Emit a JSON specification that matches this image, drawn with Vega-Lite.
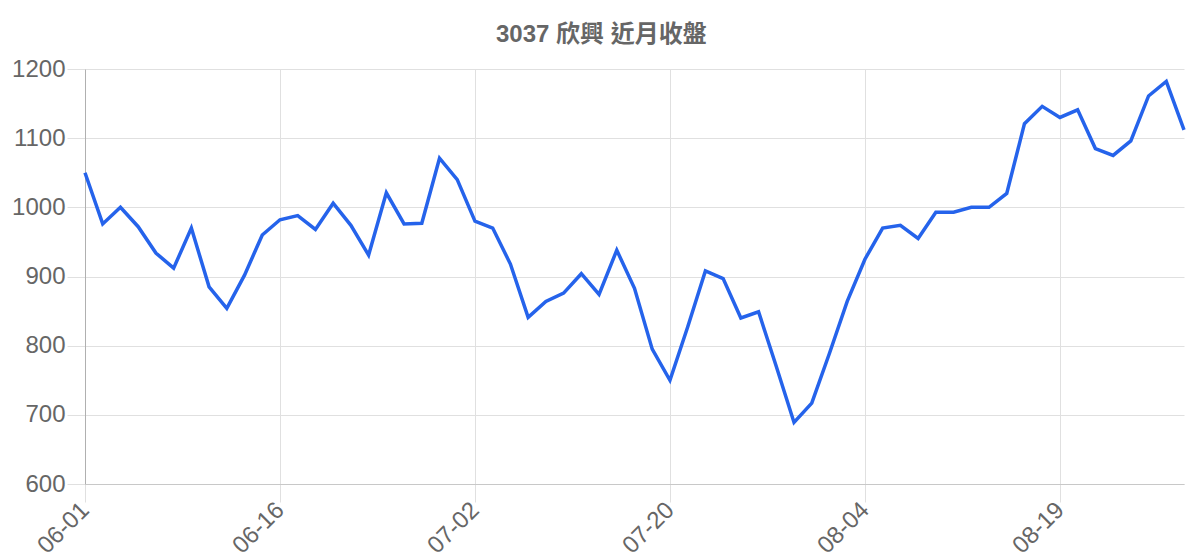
{
  "$schema": "https://vega.github.io/schema/vega-lite/v6.json",
  "autosize": {"type": "none"},
  "padding": {"left": 85, "top": 69, "right": 16, "bottom": 76},
  "width": 1099,
  "height": 415,
  "background": "white",
  "config": {
    "view": {"stroke": null},
    "font": "Liberation Sans"
  },
  "title": {
    "text": "3037 欣興 近月收盤",
    "font": "Liberation Sans, Noto Sans CJK TC",
    "fontSize": 24,
    "fontWeight": "bold",
    "color": "#666666",
    "anchor": "middle",
    "frame": "bounds",
    "offset": 10
  },
  "data": {
    "values": [
      {"date": "06-01", "close": 1050},
      {"date": "06-02", "close": 976},
      {"date": "06-03", "close": 1000},
      {"date": "06-04", "close": 972},
      {"date": "06-05", "close": 934},
      {"date": "06-08", "close": 912},
      {"date": "06-09", "close": 970},
      {"date": "06-10", "close": 885},
      {"date": "06-11", "close": 854},
      {"date": "06-12", "close": 902},
      {"date": "06-15", "close": 960},
      {"date": "06-16", "close": 982},
      {"date": "06-17", "close": 988},
      {"date": "06-18", "close": 968},
      {"date": "06-19", "close": 1006},
      {"date": "06-20", "close": 974},
      {"date": "06-22", "close": 931},
      {"date": "06-23", "close": 1021},
      {"date": "06-24", "close": 976},
      {"date": "06-29", "close": 977},
      {"date": "06-30", "close": 1071},
      {"date": "07-01", "close": 1040},
      {"date": "07-02", "close": 980},
      {"date": "07-03", "close": 970},
      {"date": "07-06", "close": 918},
      {"date": "07-07", "close": 841},
      {"date": "07-08", "close": 864},
      {"date": "07-09", "close": 876},
      {"date": "07-10", "close": 904},
      {"date": "07-13", "close": 874},
      {"date": "07-14", "close": 938},
      {"date": "07-15", "close": 883},
      {"date": "07-17", "close": 795},
      {"date": "07-20", "close": 750},
      {"date": "07-21", "close": 827},
      {"date": "07-22", "close": 908},
      {"date": "07-23", "close": 897},
      {"date": "07-24", "close": 840},
      {"date": "07-27", "close": 849},
      {"date": "07-28", "close": 770},
      {"date": "07-29", "close": 689},
      {"date": "07-30", "close": 717},
      {"date": "07-31", "close": 789},
      {"date": "08-03", "close": 864},
      {"date": "08-04", "close": 925},
      {"date": "08-05", "close": 970},
      {"date": "08-06", "close": 974},
      {"date": "08-07", "close": 955},
      {"date": "08-10", "close": 993},
      {"date": "08-11", "close": 993},
      {"date": "08-12", "close": 1000},
      {"date": "08-13", "close": 1000},
      {"date": "08-14", "close": 1020},
      {"date": "08-17", "close": 1121},
      {"date": "08-18", "close": 1146},
      {"date": "08-19", "close": 1130},
      {"date": "08-20", "close": 1141},
      {"date": "08-21", "close": 1085},
      {"date": "08-24", "close": 1075},
      {"date": "08-25", "close": 1096},
      {"date": "08-26", "close": 1161},
      {"date": "08-27", "close": 1182},
      {"date": "08-28", "close": 1112}
    ]
  },
  "mark": {
    "type": "line",
    "color": "#2563eb",
    "strokeWidth": 3.5,
    "strokeJoin": "miter"
  },
  "encoding": {
    "x": {
      "field": "date",
      "type": "ordinal",
      "sort": null,
      "scale": {"type": "point", "padding": 0},
      "axis": {
        "title": null,
        "values": ["06-01", "06-16", "07-02", "07-20", "08-04", "08-19"],
        "labelAngle": -45,
        "labelAlign": "right",
        "labelBaseline": "middle",
        "labelFontSize": 24,
        "labelColor": "#666666",
        "labelPadding": 4,
        "grid": true,
        "gridColor": "#e0e0e0",
        "gridWidth": 1,
        "tickColor": "#e0e0e0",
        "tickSize": 18,
        "domainColor": "#c8c8c8",
        "labelOverlap": false
      }
    },
    "y": {
      "field": "close",
      "type": "quantitative",
      "scale": {"domain": [600, 1200], "nice": false, "zero": false},
      "axis": {
        "title": null,
        "format": "d",
        "values": [600, 700, 800, 900, 1000, 1100, 1200],
        "labelFontSize": 24,
        "labelColor": "#666666",
        "labelPadding": 2,
        "grid": true,
        "gridColor": "#e0e0e0",
        "tickColor": "#e0e0e0",
        "tickSize": 18,
        "domainColor": "#b0b0b0"
      }
    }
  }
}
